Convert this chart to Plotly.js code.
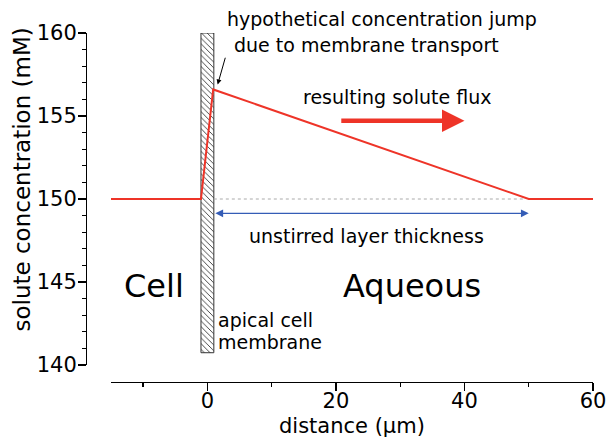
<!DOCTYPE html>
<html><head><meta charset="utf-8">
<script src="https://cdn.plot.ly/plotly-3.0.1.min.js"></script>
<style>html,body{margin:0;padding:0;background:#fff}#chart{width:606px;height:442px}</style>
</head><body><div id="chart"></div>
<script>
// concentration profile (mM) vs distance (µm)
const profileX = [-15, -1, 0.9, 50, 60];
const profileY = [150, 150, 156.6, 150, 150];
// membrane slab
const membraneX = [-1, 1];
const membraneY = [140.74, 160];
// bulk reference level (dotted)
const bulkX = [1, 49.5];
const bulkY = [150, 150];
// unstirred layer span
const layerX = [1, 50];
const layerY = 149.14;
// flux arrow
const fluxX = [20.6, 40.0];
const fluxY = 154.72;
// jump pointer arrow (tail -> head)
const jumpX = [2.85, 1.6];
const jumpY = [158.6, 156.9];

const xTicks = [0, 20, 40, 60];
const yTicks = [140, 145, 150, 155, 160];

const RED = 'rgb(238,52,40)';
const BLUE = 'rgb(52,92,182)';
const FONT = 'DejaVu Sans, Liberation Sans, Arial, sans-serif';

const traces = [
  {
    type: 'bar',
    x: [(membraneX[0] + membraneX[1]) / 2],
    y: [membraneY[1] - membraneY[0]],
    base: [membraneY[0]],
    width: [membraneX[1] - membraneX[0]],
    marker: {
      color: 'white',
      line: {color: '#333', width: 1},
      pattern: {shape: '\\', fgcolor: '#333', bgcolor: 'white', size: 4, solidity: 0.22}
    },
    hoverinfo: 'skip', showlegend: false
  },
  {
    type: 'scatter', mode: 'lines',
    x: bulkX, y: bulkY,
    line: {color: '#aaa', width: 1, dash: 'dot'},
    hoverinfo: 'skip', showlegend: false
  },
  {
    type: 'scatter', mode: 'lines',
    x: profileX, y: profileY,
    line: {color: RED, width: 2},
    hoverinfo: 'skip', showlegend: false
  }
];

const ann = (text, x, y, size, xa, ya, extra) => Object.assign({
  text: text, x: x, y: y, xref: 'x', yref: 'y', showarrow: false,
  xanchor: xa, yanchor: ya, font: {family: FONT, size: size, color: '#000'}
}, extra || {});

const annotations = [
  ann('hypothetical concentration jump', 0.274, 1.040, 19, 'left', 'middle', {xref: 'paper', yref: 'paper'}),
  ann('due to membrane transport', 3.8, 159.3, 19, 'left', 'middle'),
  ann('resulting solute flux', 29.5, 156.15, 19, 'center', 'middle'),
  ann('unstirred layer thickness', 24.7, 147.75, 19, 'center', 'middle'),
  ann('Cell', -8.35, 144.75, 32, 'center', 'middle'),
  ann('Aqueous', 31.8, 144.75, 32, 'center', 'middle'),
  ann('apical cell', 1.3, 142.7, 19, 'left', 'middle'),
  ann('membrane', 1.3, 141.4, 19, 'left', 'middle'),
  // axis titles
  ann('solute concentration (mM)', -0.127, 0.579, 23, 'center', 'middle', {xref: 'paper', yref: 'paper', textangle: -90}),
  ann('distance (μm)', 0.5237, -0.126, 21, 'center', 'middle', {xref: 'paper', yref: 'paper'}),
  // flux arrow
  {x: fluxX[1], y: fluxY, ax: fluxX[0], ay: fluxY, xref: 'x', yref: 'y', axref: 'x', ayref: 'y',
   text: '', showarrow: true, arrowhead: 2, arrowsize: 1, arrowwidth: 4.5, arrowcolor: RED, standoff: 0, startstandoff: 0},
  // unstirred layer double arrow
  {x: layerX[1], y: layerY, ax: layerX[0], ay: layerY, xref: 'x', yref: 'y', axref: 'x', ayref: 'y',
   text: '', showarrow: true, arrowhead: 2, startarrowhead: 2, arrowside: 'end+start', arrowsize: 1.2, startarrowsize: 1.2,
   arrowwidth: 1.3, arrowcolor: BLUE, standoff: 0, startstandoff: 0},
  // jump pointer
  {x: jumpX[1], y: jumpY[1], ax: jumpX[0], ay: jumpY[0], xref: 'x', yref: 'y', axref: 'x', ayref: 'y',
   text: '', showarrow: true, arrowhead: 2, arrowsize: 1, arrowwidth: 1, arrowcolor: '#000', standoff: 0}
];

const layout = {
  width: 606, height: 442,
  margin: {l: 86, r: 13, t: 33, b: 60},
  paper_bgcolor: 'white', plot_bgcolor: 'white',
  showlegend: false,
  font: {family: FONT, color: '#000'},
  xaxis: {
    range: [-15, 60], domain: [25 / 507, 1],
    anchor: 'free', position: 0,
    tickvals: xTicks, ticktext: xTicks.map(String),
    ticks: 'outside', ticklen: 8, tickwidth: 1.3, tickcolor: '#000',
    ticklabelstandoff: -9, ticklabeloverflow: 'allow',
    minor: {dtick: 10, tick0: 0, ticks: 'outside', ticklen: 4, tickwidth: 1.3, tickcolor: '#000', showgrid: false},
    showline: true, linecolor: '#000', linewidth: 1.3,
    showgrid: false, zeroline: false,
    tickfont: {family: FONT, size: 21, color: '#000'},
    fixedrange: true
  },
  yaxis: {
    range: [140, 160], domain: [17 / 349, 1],
    anchor: 'free', position: 0,
    tickvals: yTicks, ticktext: yTicks.map(String),
    ticks: 'outside', ticklen: 8, tickwidth: 1.3, tickcolor: '#000',
    ticklabelstandoff: -3, ticklabeloverflow: 'allow',
    minor: {dtick: 1, tick0: 140, ticks: 'outside', ticklen: 4, tickwidth: 1.3, tickcolor: '#000', showgrid: false},
    showline: true, linecolor: '#000', linewidth: 1.3,
    showgrid: false, zeroline: false,
    tickfont: {family: FONT, size: 21, color: '#000'},
    fixedrange: true
  },
  bargap: 0,
  annotations: annotations
};

Plotly.newPlot('chart', traces, layout, {displayModeBar: false, staticPlot: true});
</script>
</body></html>
